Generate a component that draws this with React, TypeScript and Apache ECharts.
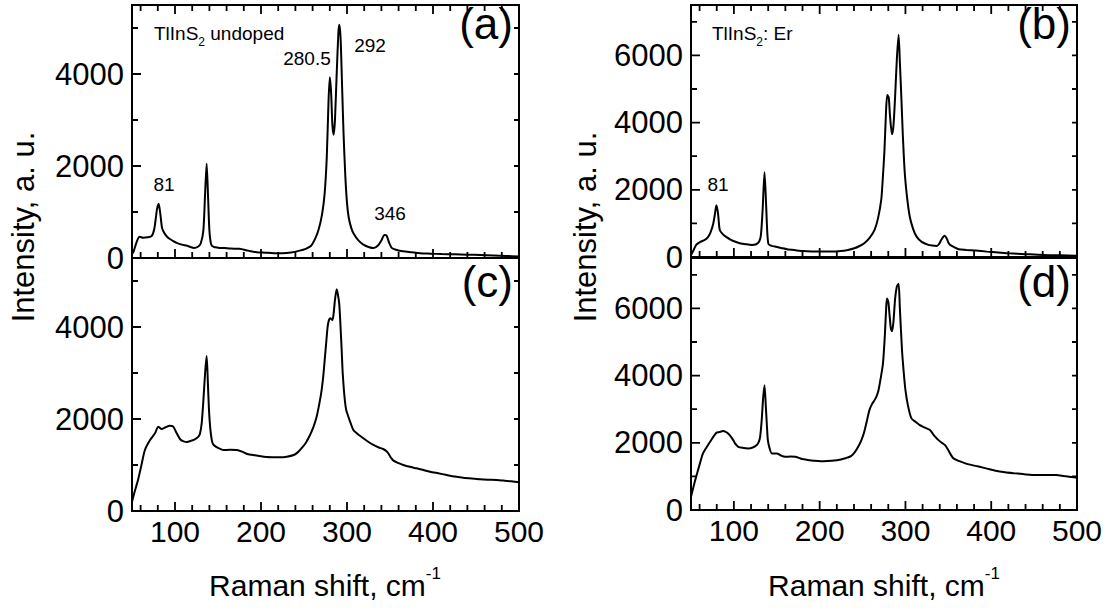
import React, { useEffect, useRef } from "react";
import * as echarts from "echarts";

// ---------- tick values ----------
const X_MIN = 50;
const X_MAX = 500;
const X_MAJOR = [100, 200, 300, 400, 500];
const X_MINOR = [60, 80, 120, 140, 160, 180, 220, 240, 260, 280, 320, 340, 360, 380, 420, 440, 460, 480];
const Y_MAX_UNDOPED = 5500;
const Y_MAX_ER = 7500;
const Y_MAJOR_UNDOPED = [0, 2000, 4000];
const Y_MINOR_UNDOPED = [1000, 3000, 5000];
const Y_MAJOR_ER = [0, 2000, 4000, 6000];
const Y_MINOR_ER = [1000, 3000, 5000, 7000];

// ---------- (a) TlInS2 undoped ----------
const shiftA = [50, 52, 56, 59, 63, 68, 73, 76, 79, 81, 83, 85, 88, 92, 97, 102, 108, 114, 118, 122, 127, 130, 133, 135, 136.8, 138.5, 140, 142, 145, 150, 158, 165, 175, 185, 195, 205, 215, 225, 235, 245, 252, 258, 263, 267, 271, 274, 276.5, 278.5, 280, 281.5, 283, 284.5, 286, 288, 290, 291, 292.5, 294.5, 296, 298, 300, 302, 305, 308, 313, 319, 325, 331, 336, 340, 343.5, 346, 349, 352, 357, 365, 375, 385, 397, 410, 425, 440, 455, 470, 485, 500];
const intensityA = [80, 150, 380, 460, 440, 450, 480, 640, 1050, 1180, 950, 650, 530, 440, 380, 330, 290, 265, 240, 220, 250, 320, 600, 1400, 2050, 1300, 600, 300, 240, 225, 215, 205, 200, 160, 125, 115, 105, 105, 120, 160, 200, 260, 420, 620, 950, 1400, 2200, 3400, 3930, 3600, 2900, 2680, 3000, 4000, 4900, 5070, 4800, 3600, 2700, 1800, 1200, 880, 650, 520, 390, 290, 240, 215, 270, 380, 500, 490, 330, 220, 180, 145, 125, 105, 95, 85, 80, 72, 65, 55, 45, 35];

// ---------- (b) TlInS2: Er ----------
const shiftB = [50, 53, 56, 61, 66, 70, 73, 76, 78, 79.6, 81.5, 83.5, 87, 91.4, 96, 101, 107, 114, 120.8, 126, 129.5, 131.5, 133.5, 135.7, 137.5, 139, 140.4, 144, 148, 155, 162, 172, 181.5, 191, 201, 212, 224.7, 233, 240.4, 246, 252, 258, 264, 268, 271.8, 273.5, 275.6, 277.3, 278.8, 280.5, 282, 284.3, 286, 288, 290, 292, 293.5, 295.3, 297, 299.2, 302, 305, 309, 313, 319, 326.7, 331, 336.5, 339, 342, 345.5, 348, 350, 352, 357, 362, 371, 381.5, 395, 408, 420.8, 440, 460, 480, 500];
const intensityB = [60, 200, 360, 450, 510, 600, 750, 1000, 1300, 1537, 1300, 808, 680, 590, 520, 460, 410, 380, 360, 380, 460, 650, 1400, 2525, 1600, 700, 380, 330, 310, 270, 230, 200, 175, 165, 160, 160, 175, 210, 260, 320, 410, 560, 808, 1150, 1707, 2300, 3204, 4300, 4820, 4750, 4200, 3653, 3900, 4800, 5900, 6617, 5800, 4700, 3600, 2506, 1750, 1207, 830, 608, 450, 360, 340, 330, 380, 520, 629, 560, 430, 360, 290, 230, 210, 190, 160, 135, 110, 85, 60, 50, 40];

// ---------- (c) undoped, second spectrum ----------
const shiftC = [50, 51.5, 54, 57, 61, 65, 71, 76.7, 80.6, 84.5, 89, 94, 98, 102, 106, 110, 114, 119, 123, 127, 129, 131, 133, 135, 136.8, 138.2, 139.5, 141, 143, 145, 150, 156, 164, 172, 178, 184, 193, 203, 213, 222, 230, 238, 243, 247, 252, 257, 261, 264.7, 268, 270.5, 272.5, 274.4, 276, 277.5, 279, 280.5, 283, 284.5, 286, 288, 289.5, 291, 292.5, 293.8, 295, 297, 299, 301.6, 304, 307.4, 312, 319, 325, 330.6, 337, 342, 346, 348, 351, 354, 360, 365.5, 373, 381, 389, 396.5, 406, 416, 425, 435, 445, 454.7, 464, 474, 483, 491, 500];
const intensityC = [200, 311, 480, 674, 1000, 1326, 1543, 1689, 1833, 1783, 1820, 1855, 1833, 1689, 1560, 1515, 1500, 1530, 1558, 1610, 1680, 1900, 2400, 3000, 3370, 2800, 2200, 1800, 1520, 1435, 1370, 1326, 1330, 1326, 1290, 1239, 1210, 1181, 1170, 1166, 1180, 1217, 1280, 1362, 1480, 1652, 1830, 2050, 2350, 2630, 2950, 3355, 3700, 4007, 4150, 4190, 4152, 4300, 4587, 4820, 4700, 4500, 4000, 3500, 3000, 2500, 2200, 2050, 1920, 1761, 1680, 1580, 1500, 1435, 1380, 1348, 1300, 1254, 1160, 1094, 1040, 1000, 960, 928, 890, 855, 820, 783, 750, 724, 705, 689, 680, 674, 660, 645, 624];

// ---------- (d) Er-doped, second spectrum ----------
const shiftD = [50, 53, 56, 60, 64, 69.8, 74, 79.6, 83, 87.4, 91, 93.3, 96, 99.2, 102, 105, 110, 116.8, 122, 126.7, 129, 130.6, 132.5, 134, 135.7, 137.2, 138.5, 139.6, 141.5, 144.3, 150, 155, 160, 166, 171.8, 175, 179.6, 186, 193.3, 201, 209, 217, 224.7, 230, 236.5, 241, 246, 249, 252, 255, 258, 261, 264, 266.5, 268.6, 271, 273.8, 276, 277.5, 278.5, 280, 281.5, 283, 284.3, 286, 288, 290, 292, 293.5, 296, 298, 300, 303, 307, 312, 316.8, 322, 328.6, 333, 338.5, 343, 346.2, 350, 353, 356, 362, 369.8, 380, 389.4, 397, 405, 416, 428.6, 440, 452, 464, 475.8, 485, 493, 500];
const intensityD = [395, 700, 990, 1350, 1685, 1932, 2100, 2298, 2320, 2348, 2320, 2279, 2200, 2080, 1960, 1882, 1850, 1833, 1860, 1932, 2030, 2179, 2700, 3300, 3715, 3100, 2500, 2080, 1850, 1685, 1685, 1620, 1585, 1590, 1585, 1560, 1516, 1490, 1466, 1450, 1456, 1470, 1506, 1540, 1605, 1720, 1932, 2100, 2328, 2650, 2972, 3150, 3270, 3400, 3566, 3900, 4360, 5200, 6000, 6292, 6200, 5800, 5400, 5320, 5600, 6300, 6650, 6737, 6000, 4755, 4100, 3566, 3100, 2725, 2620, 2526, 2460, 2378, 2230, 2080, 1990, 1932, 1780, 1640, 1536, 1460, 1387, 1320, 1268, 1220, 1169, 1125, 1090, 1060, 1040, 1040, 1040, 1010, 985, 960];

// ---------- texts ----------
const Y_TITLE = "Intensity, a. u.";
const X_TITLE = "Raman shift, cm";
const X_TITLE_SUP = "-1";
const PANEL_LABELS = ["(a)", "(b)", "(c)", "(d)"];

const FONT = "'Liberation Sans', Arial, Helvetica, sans-serif";

function pairs(xs: number[], ys: number[]) {
  return xs.map((x, i) => [x, ys[i]]);
}

export default function App() {
  const ref = useRef<HTMLDivElement>(null);

  useEffect(() => {
    if (!ref.current) return;
    const chart = echarts.init(ref.current, null, { renderer: "svg" });

    const layout = [
      { left: 132, top: 5, width: 387, height: 253 }, // a
      { left: 132, top: 258, width: 387, height: 253 }, // c
      { left: 691, top: 5, width: 386, height: 252 }, // b
      { left: 691, top: 258, width: 386, height: 252 }, // d
    ];
    const grids = layout.map((g) => ({
      ...g,
      show: true,
      borderColor: "#000",
      borderWidth: 2,
      backgroundColor: "transparent",
      containLabel: false,
      outerBoundsMode: "none",
    }));

    const panels = [
      { top: true, max: Y_MAX_UNDOPED, major: Y_MAJOR_UNDOPED, minor: Y_MINOR_UNDOPED, data: pairs(shiftA, intensityA) },
      { top: false, max: Y_MAX_UNDOPED, major: Y_MAJOR_UNDOPED, minor: Y_MINOR_UNDOPED, data: pairs(shiftC, intensityC) },
      { top: true, max: Y_MAX_ER, major: Y_MAJOR_ER, minor: Y_MINOR_ER, data: pairs(shiftB, intensityB) },
      { top: false, max: Y_MAX_ER, major: Y_MAJOR_ER, minor: Y_MINOR_ER, data: pairs(shiftD, intensityD) },
    ];

    const fmt = (v: number) => String(v);

    const xAxes = panels.map((p, gi) => ({
      type: "value",
      gridIndex: gi,
      position: "bottom",
      min: X_MIN,
      max: X_MAX,
      axisLine: { show: false },
      splitLine: { show: false },
      axisTick: { show: false },
      axisLabel: {
        show: !p.top,
        customValues: X_MAJOR,
        formatter: fmt,
        fontSize: 30,
        color: "#000",
        fontFamily: FONT,
        margin: 5,
      },
    }));

    const yAxes = panels.map((p, gi) => ({
      type: "value",
      gridIndex: gi,
      position: "left",
      min: 0,
      max: p.max,
      axisLine: { show: false },
      splitLine: { show: false },
      axisTick: { show: false },
      axisLabel: {
        show: true,
        customValues: p.major,
        formatter: fmt,
        fontSize: 31,
        color: "#000",
        fontFamily: FONT,
        margin: 8,
      },
    }));

    const curveSeries = panels.map((p, gi) => ({
      type: "line",
      xAxisIndex: gi,
      yAxisIndex: gi,
      data: p.data,
      showSymbol: false,
      symbol: "none",
      smooth: 0.25,
      lineStyle: { color: "#000", width: 2 },
      silent: true,
      z: 3,
    }));

    // Tick marks: one continuous zig-zag polyline per frame edge; the parts that
    // run along the edge sit on the frame, the excursions are the ticks.
    const tickSeries: any[] = [];
    panels.forEach((p, gi) => {
      const g = layout[gi];
      const yPerPx = p.max / g.height;
      const xPerPx = (X_MAX - X_MIN) / g.width;
      const xTicks = [
        ...X_MAJOR.map((v) => [v, 9]),
        ...X_MINOR.map((v) => [v, 6]),
      ]
        .filter(([v]) => v > X_MIN && v < X_MAX)
        .sort((a, b) => a[0] - b[0]);
      const yTicks = [
        ...p.major.map((v) => [v, 9]),
        ...p.minor.map((v) => [v, 6]),
      ]
        .filter(([v]) => v > 0 && v < p.max)
        .sort((a, b) => a[0] - b[0]);

      const edges: number[][][] = [];
      // bottom edge (ticks point up)
      const bottom: number[][] = [[X_MIN, 0]];
      xTicks.forEach(([v, len]) => bottom.push([v, 0], [v, len * yPerPx], [v, 0]));
      bottom.push([X_MAX, 0]);
      edges.push(bottom);
      // top edge (ticks point down)
      if (p.top) {
        const top: number[][] = [[X_MIN, p.max]];
        xTicks.forEach(([v, len]) => top.push([v, p.max], [v, p.max - len * yPerPx], [v, p.max]));
        top.push([X_MAX, p.max]);
        edges.push(top);
      }
      // left edge (ticks point right)
      const left: number[][] = [[X_MIN, 0]];
      yTicks.forEach(([v, len]) => left.push([X_MIN, v], [X_MIN + len * xPerPx, v], [X_MIN, v]));
      left.push([X_MIN, p.max]);
      edges.push(left);
      // right edge (short ticks point left)
      const right: number[][] = [[X_MAX, 0]];
      yTicks.forEach(([v]) => right.push([X_MAX, v], [X_MAX - 5 * xPerPx, v], [X_MAX, v]));
      right.push([X_MAX, p.max]);
      edges.push(right);

      edges.forEach((data) =>
        tickSeries.push({
          type: "line",
          xAxisIndex: gi,
          yAxisIndex: gi,
          data,
          showSymbol: false,
          symbol: "none",
          smooth: false,
          clip: false,
          lineStyle: { color: "#000", width: 1.8 },
          silent: true,
          z: 4,
        })
      );
    });

    const text = (t: string, x: number, y: number, size: number, align = "center", vAlign = "middle", extra: any = {}) => ({
      type: "text",
      x,
      y,
      silent: true,
      ...extra,
      style: { text: t, fontSize: size, fontFamily: FONT, fill: "#000", align, verticalAlign: vAlign },
    });

    const richSub = (main: string, sub: string, rest: string, x: number, y: number) => ({
      type: "text",
      x,
      y,
      silent: true,
      style: {
        text: `{m|${main}}{s|${sub}}{m|${rest}}`,
        align: "left",
        verticalAlign: "top",
        fontFamily: FONT,
        fill: "#000",
        rich: {
          m: { fontSize: 19, lineHeight: 30, fontFamily: FONT, fill: "#000" },
          s: { fontSize: 12, lineHeight: 9, verticalAlign: "bottom", fontFamily: FONT, fill: "#000" },
        },
      },
    });

    const xTitle = (cx: number) => ({
      type: "text",
      x: cx,
      y: 565,
      silent: true,
      style: {
        text: `{m|${X_TITLE}}{s|${X_TITLE_SUP}}`,
        align: "center",
        verticalAlign: "top",
        fontFamily: FONT,
        fill: "#000",
        rich: {
          m: { fontSize: 30, lineHeight: 40, fontFamily: FONT, fill: "#000" },
          s: { fontSize: 17, lineHeight: 16, verticalAlign: "top", fontFamily: FONT, fill: "#000" },
        },
      },
    });

    const graphic = [
      text(Y_TITLE, 23, 227, 31, "center", "middle", { rotation: Math.PI / 2 }),
      text(Y_TITLE, 585, 227, 31, "center", "middle", { rotation: Math.PI / 2 }),
      xTitle(325),
      xTitle(884),
      text(PANEL_LABELS[0], 513, 23, 44, "right", "middle"),
      text(PANEL_LABELS[1], 1071, 23, 44, "right", "middle"),
      text(PANEL_LABELS[2], 513, 281, 44, "right", "middle"),
      text(PANEL_LABELS[3], 1071, 281, 44, "right", "middle"),
      richSub("TlInS", "2", " undoped", 154, 18),
      richSub("TlInS", "2", ": Er", 712, 18),
      text("280.5", 307, 58, 19),
      text("292", 370, 45, 19),
      text("81", 164, 184, 19),
      text("346", 390, 213, 19),
      text("81", 718, 184, 19),
    ];

    chart.setOption({
      animation: false,
      backgroundColor: "#fff",
      textStyle: { fontFamily: FONT },
      grid: grids,
      xAxis: xAxes,
      yAxis: yAxes,
      series: [...curveSeries, ...tickSeries],
      graphic,
    } as any);

    return () => chart.dispose();
  }, []);

  return (
    <div
      ref={ref}
      style={{ position: "absolute", left: 0, top: 0, width: 1117, height: 613 }}
    />
  );
}
